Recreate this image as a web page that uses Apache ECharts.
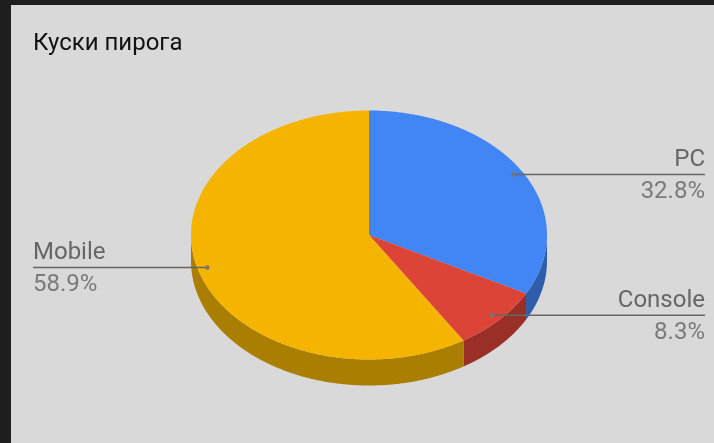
<!DOCTYPE html>
<html>
<head>
<meta charset="utf-8">
<style>
  html, body { margin: 0; height: 100%; background: #1e1e1e; overflow: hidden; }
  #chart { position: absolute; left: 11px; top: 5px; width: 703px; height: 438px; }
</style>
<script src="https://cdn.jsdelivr.net/npm/echarts@6/dist/echarts.min.js"></script>
</head>
<body>
<div id="chart"></div>
<script>
const chartTitle = 'Куски пирога';
const categories = ['PC', 'Console', 'Mobile'];
const shares = [32.8, 8.3, 58.9];
const topColors = ['#4285f4', '#db4437', '#f4b400'];
const wallColors = ['#2e5dab', '#992f26', '#aa7e00'];

// Tilted disc geometry, in chart pixels
const disc = { cx: 358, cy: 230, rx: 178, ry: 124.5, depth: 26 };
const anchorRatio = 0.945;
const calloutEdge = { left: 22, right: 694 };

const total = shares.reduce((a, b) => a + b, 0);
const startShare = shares.map((_, i) => shares.slice(0, i).reduce((a, b) => a + b, 0));

// Degrees run clockwise from twelve o'clock
function rim(deg, ratio, drop) {
  const t = deg * Math.PI / 180;
  return [
    disc.cx + disc.rx * ratio * Math.sin(t),
    disc.cy - disc.ry * ratio * Math.cos(t) + (drop || 0)
  ];
}
function arc(from, to, drop) {
  const pts = [];
  const n = Math.max(2, Math.ceil((to - from) * 2));
  for (let k = 0; k <= n; k++) pts.push(rim(from + (to - from) * k / n, 1, drop));
  return pts;
}
function sweep(i, value) {
  const a0 = startShare[i] / total * 360;
  return [a0, a0 + value / total * 360];
}

function renderSlice(params, api) {
  const i = params.dataIndex;
  const [a0, a1] = sweep(i, api.value(0));
  const children = [];
  // The side wall only shows on the near half of the disc
  const w0 = Math.max(a0, 90), w1 = Math.min(a1, 270);
  if (w1 > w0) {
    children.push({
      type: 'polygon',
      shape: { points: arc(w0, w1, 0).concat(arc(w0, w1, disc.depth).reverse()) },
      style: { fill: wallColors[i] }
    });
  }
  children.push({
    type: 'polygon',
    shape: { points: [[disc.cx, disc.cy]].concat(arc(a0, a1, 0)) },
    style: { fill: topColors[i] }
  });
  return { type: 'group', children };
}

function renderCallout(params, api) {
  const i = params.dataIndex;
  const value = api.value(0);
  const [a0, a1] = sweep(i, value);
  const mid = (a0 + a1) / 2;
  const [ax, ay] = rim(mid, anchorRatio, 0);
  const onRight = mid < 180;
  const edge = onRight ? calloutEdge.right : calloutEdge.left;
  const align = onRight ? 'right' : 'left';
  return {
    type: 'group',
    children: [
      { type: 'line', shape: { x1: ax, y1: ay, x2: edge, y2: ay },
        style: { stroke: '#666666', lineWidth: 1.5 } },
      { type: 'circle', shape: { cx: ax, cy: ay, r: 2.2 },
        style: { fill: '#757575' } },
      { type: 'text', style: { x: edge, y: ay - 2, text: categories[i], align,
          verticalAlign: 'bottom', fill: '#666666', font: '24px Roboto' } },
      { type: 'text', style: { x: edge, y: ay + 6, text: value.toFixed(1) + '%', align,
          verticalAlign: 'top', fill: '#7a7a7a', font: '24px Roboto' } }
    ]
  };
}

const rows = shares.map(v => [v]);
const chart = echarts.init(document.getElementById('chart'), null, { renderer: 'canvas' });
chart.setOption({
  animation: false,
  backgroundColor: '#d9d9d9',
  title: {
    text: chartTitle, left: 17, top: 22,
    textStyle: { fontFamily: 'Roboto', fontSize: 24, fontWeight: 'normal', color: '#111111' }
  },
  series: [
    { type: 'custom', coordinateSystem: 'none', silent: true, z: 2, data: rows, renderItem: renderSlice },
    { type: 'custom', coordinateSystem: 'none', silent: true, z: 3, data: rows, renderItem: renderCallout }
  ]
});
</script>
</body>
</html>
